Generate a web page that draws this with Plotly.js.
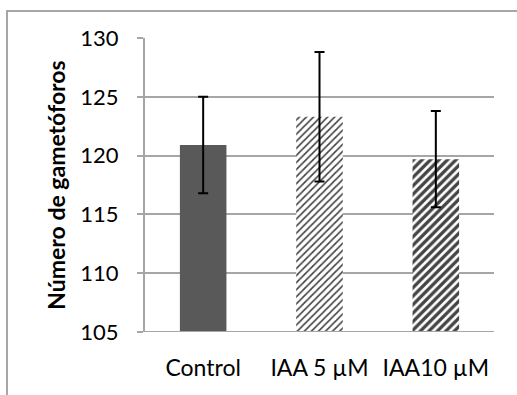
<!DOCTYPE html>
<html>
<head>
<meta charset="utf-8">
<script src="https://cdn.plot.ly/plotly-3.0.1.min.js"></script>
<style>
  html, body { margin: 0; padding: 0; background: #fff; }
  #frame { position: absolute; left: 6px; top: 10px; width: 560px; height: 420px; border: 2px solid #a6a6a6; box-sizing: border-box; }
  #chart { position: absolute; left: 0; top: 0; width: 517px; height: 395px; }
</style>
</head>
<body>
<div id="frame"></div>
<div id="chart"></div>
<script>
const categories = ["Control", "IAA 5 µM", "IAA10 µM"];
const values = [120.9, 123.3, 119.7];
const errors = [4.1, 5.5, 4.1];
const yTicks = [105, 110, 115, 120, 125, 130];

const trace = {
  type: "bar",
  x: categories,
  y: values.map(v => v - 105),
  base: 105,
  error_y: { type: "data", array: errors, visible: true, color: "#000", thickness: 2, width: 5 },
  marker: {
    color: ["#595959", "#ffffff", "#ffffff"],
    line: { width: 0 },
    pattern: {
      shape: ["", "/", "/"],
      fgcolor: ["#595959", "#3a3a3a", "#000000"],
      fgopacity: 1,
      size: [6, 5, 6],
      solidity: [0.3, 0.33, 0.55],
      fillmode: "overlay"
    }
  },
  hoverinfo: "skip"
};

const layout = {
  width: 517, height: 395,
  margin: { l: 145, r: 23, t: 38, b: 63 },
  paper_bgcolor: "rgba(0,0,0,0)",
  plot_bgcolor: "rgba(0,0,0,0)",
  bargap: 0.6,
  showlegend: false,
  font: { family: "Lato, 'Open Sans', sans-serif", color: "#000", size: 22 },
  xaxis: {
    type: "category",
    showgrid: false,
    showline: false,
    ticks: "",
    tickfont: { size: 23 },
    ticklabelstandoff: 20
  },
  yaxis: {
    range: [105, 130],
    tickvals: yTicks,
    ticktext: yTicks.map(String),
    showgrid: true,
    gridcolor: "#a6a6a6",
    gridwidth: 2,
    showline: true,
    linecolor: "#a6a6a6",
    linewidth: 2,
    ticks: "outside",
    ticklen: 6,
    tickwidth: 2,
    tickcolor: "#a6a6a6",
    tickfont: { size: 22 },
    ticklabelstandoff: 14,
    zeroline: false,
    title: { text: "Número de gametóforos", font: { size: 23, weight: "bold", family: "Lato, 'Open Sans', sans-serif" }, standoff: 8 }
  },
  shapes: [
    { type: "line", xref: "paper", yref: "y", x0: 0, x1: 1, y0: 105, y1: 105, line: { color: "#a6a6a6", width: 2 } }
  ]
};

Plotly.newPlot("chart", [trace], layout, { displayModeBar: false, staticPlot: true });
</script>
</body>
</html>
